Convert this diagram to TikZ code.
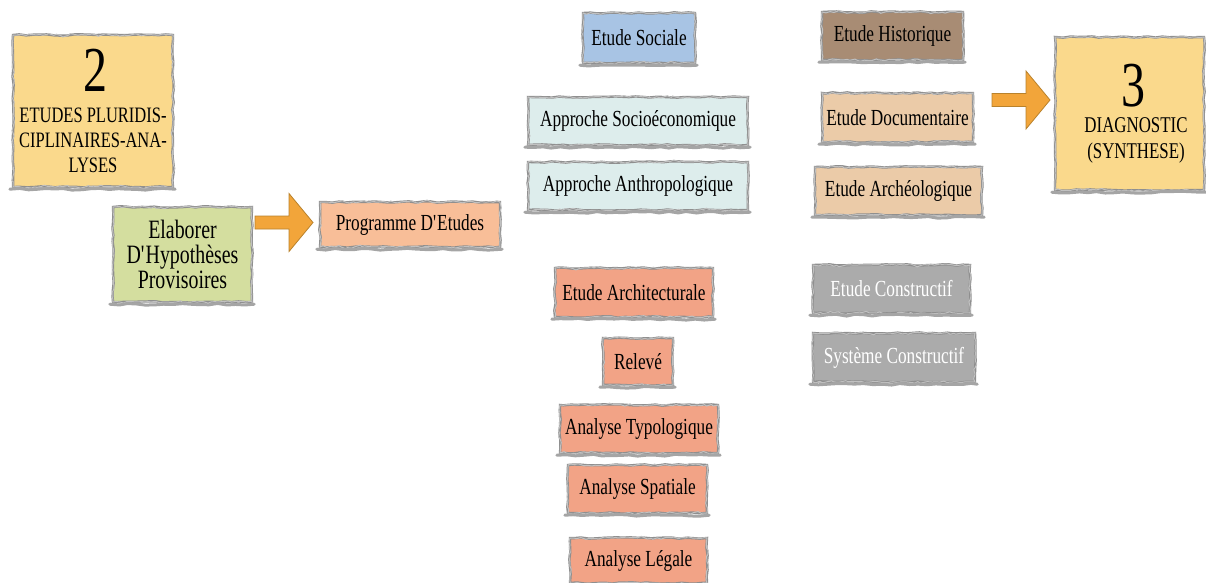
\documentclass[tikz,border=0pt]{standalone}
\usepackage{fontspec}
\setmainfont[FakeStretch=0.75]{Liberation Serif}
\usetikzlibrary{decorations.pathmorphing}

\definecolor{cardyellow}{HTML}{FAD98C}
\definecolor{cardgreen}{HTML}{D4DE9F}
\definecolor{cardpeach}{HTML}{F8BE98}
\definecolor{cardblue}{HTML}{A8C4E4}
\definecolor{cardmist}{HTML}{DDEDEC}
\definecolor{cardbrown}{HTML}{A88C74}
\definecolor{cardtan}{HTML}{EBCBA8}
\definecolor{cardsalmon}{HTML}{F2A386}
\definecolor{cardgrey}{HTML}{ABABAB}
\definecolor{edgegray}{HTML}{8F8F8F}
\definecolor{arrowfill}{HTML}{F2A53A}
\definecolor{arrowedge}{HTML}{B9822C}

\begin{document}
\pgfmathsetseed{7}
\begin{tikzpicture}[x=1pt,y=-1pt,
  card/.style={rectangle, fill=#1, inner sep=0pt, align=center,
    font=\fontsize{23}{26}\selectfont,
    draw=edgegray, line width=2.4pt, decorate,
    decoration={random steps, segment length=7pt, amplitude=0.7pt},
    postaction={draw=edgegray!55, line width=1pt, decorate,
      decoration={random steps, segment length=4pt, amplitude=1.4pt}}},
  smear/.style={draw=edgegray!80, line width=3pt, line cap=round, decorate,
    decoration={random steps, segment length=9pt, amplitude=0.9pt}},
  bignum/.style={inner sep=0pt, font=\fontsize{64}{64}\selectfont},
  headtext/.style={inner sep=0pt, align=center, font=\fontsize{22}{25}\selectfont},
  arrowstyle/.style={fill=arrowfill, draw=arrowedge, line width=0.8pt, line join=miter},
  blockarrow/.pic={
    \draw[arrowstyle] (0,-6.5) -- (34,-6.5) -- (34,-29) -- (58,0)
      -- (34,29) -- (34,6.5) -- (0,6.5) -- cycle;
  }]
\useasboundingbox (0,0) rectangle (1206,582);

% phase 2: pluridisciplinary studies
\node[card=cardyellow, minimum width=160, minimum height=152] (two) at (93,111) {};
\node[bignum] (twonum) at (95,70) {2};
\node[headtext] (twotxt) at (93,140) {ETUDES PLURIDIS-\\CIPLINAIRES-ANA-\\LYSES};

\node[card=cardgreen, minimum width=139, minimum height=95,
      font=\fontsize{26.5}{25}\selectfont] (elab) at (182.5,254.5)
      {Elaborer\\D\textquotesingle Hypothèses\\Provisoires};
\coordinate (arr1) at (255,222.5);
\pic at (arr1) {blockarrow};
\node[card=cardpeach, minimum width=180, minimum height=45] (prog) at (410,224.5) {Programme D\textquotesingle Etudes};

% social studies
\node[card=cardblue, minimum width=112, minimum height=50] (soc) at (639,38) {Etude Sociale};
\node[card=cardmist, minimum width=220, minimum height=48] (seco) at (638,121) {Approche Socioéconomique};
\node[card=cardmist, minimum width=220, minimum height=48] (anth) at (638,186) {Approche Anthropologique};

% historical studies
\node[card=cardbrown, minimum width=141, minimum height=48] (hist) at (892.5,36) {Etude Historique};
\node[card=cardtan, minimum width=151, minimum height=49] (docu) at (897.5,117.5) {Etude Documentaire};
\node[card=cardtan, minimum width=167, minimum height=48] (archeo) at (898.5,191) {Etude Archéologique};

% architectural studies
\node[card=cardsalmon, minimum width=158, minimum height=49] (archi) at (634,292.5) {Etude Architecturale};
\node[card=cardsalmon, minimum width=70, minimum height=47] (rel) at (638,361.5) {Relevé};
\node[card=cardsalmon, minimum width=158, minimum height=48] (typo) at (639,429) {Analyse Typologique};
\node[card=cardsalmon, minimum width=139, minimum height=48] (spat) at (637.5,489) {Analyse Spatiale};
\node[card=cardsalmon, minimum width=137, minimum height=45] (leg) at (638.5,560.5) {Analyse Légale};

% constructive studies
\node[card=cardgrey, text=white, minimum width=157, minimum height=48] (cons) at (891.5,289) {Etude Constructif};
\node[card=cardgrey, text=white, minimum width=162, minimum height=49] (syst) at (894,357.5) {Système Constructif};

% phase 3: diagnostic
\coordinate (arr2) at (992,100);
\pic at (arr2) {blockarrow};
\node[card=cardyellow, minimum width=149, minimum height=153] (three) at (1129.5,113.5) {};
\node[bignum] (threenum) at (1133,86) {3};
\node[headtext, font=\fontsize{22.5}{26}\selectfont] (threetxt) at (1136,140) {DIAGNOSTIC\\(SYNTHESE)};

% heavier brush strokes along the lower edges
\foreach \n in {two,elab,prog,soc,seco,anth,hist,docu,archeo,archi,rel,typo,spat,leg,cons,syst,three}
  \draw[smear] ([xshift=-2pt,yshift=-1pt]\n.south west) -- ([xshift=1pt,yshift=-1pt]\n.south east);
\end{tikzpicture}
\end{document}
